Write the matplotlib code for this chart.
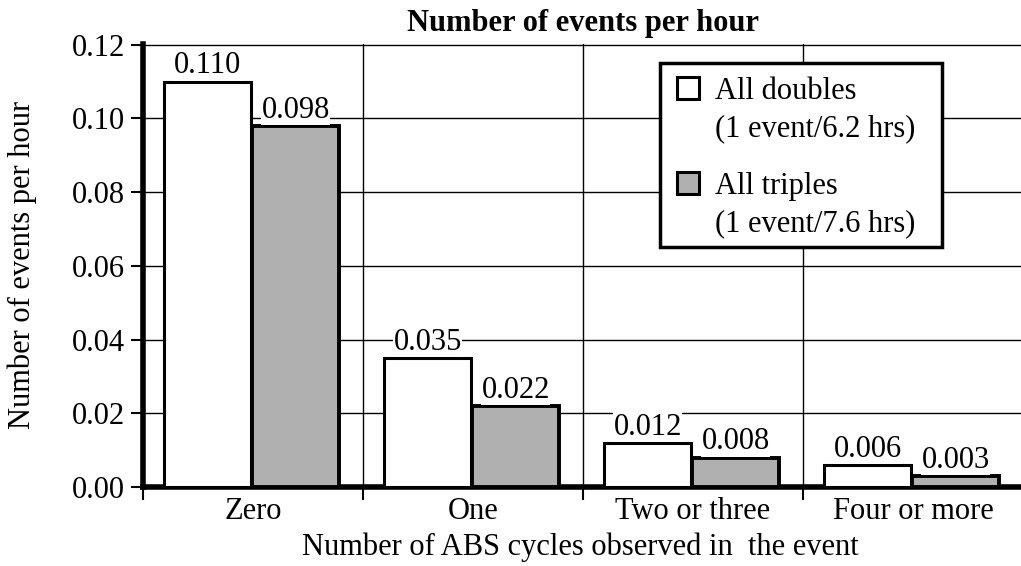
import matplotlib
matplotlib.use("Agg")
import matplotlib.pyplot as plt
from matplotlib.patches import Rectangle
import numpy as np

categories = ["Zero", "One", "Two or three", "Four or more"]
doubles = [0.110, 0.035, 0.012, 0.006]
triples = [0.098, 0.022, 0.008, 0.003]
doubles_labels = ["0.110", "0.035", "0.012", "0.006"]
triples_labels = ["0.098", "0.022", "0.008", "0.003"]
yticks = [0.00, 0.02, 0.04, 0.06, 0.08, 0.10, 0.12]
ytick_labels = ["0.00", "0.02", "0.04", "0.06", "0.08", "0.10", "0.12"]
legend_names = ["All doubles", "All triples"]
legend_notes = ["(1 event/6.2 hrs)", "(1 event/7.6 hrs)"]

plt.rcParams['font.family'] = ['Liberation Serif', 'DejaVu Serif']

W, H = 1021, 566
fig = plt.figure(figsize=(W / 100, H / 100), dpi=100)
ax = fig.add_axes([143 / W, 1 - 487 / H, 880 / W, (487 - 44) / H])


def fx(px):
    return px / W


def fy(py):
    return 1 - py / H


x = np.arange(len(categories))
w = 0.395
gray = '#b0b0b0'
ax.bar(x - 0.205, doubles, w, color='white', edgecolor='black', linewidth=2.2, zorder=3)
ax.bar(x + 0.195, triples, w, color=gray, edgecolor='black', linewidth=2.8, zorder=3)

fs = 22
for xi, v, t in zip(x, doubles, doubles_labels):
    ax.text(xi - 0.205, v + 0.0022, t, ha='center', va='baseline', fontsize=fs, zorder=4,
            bbox=dict(facecolor='white', edgecolor='none', pad=0.3))
for xi, v, t in zip(x, triples, triples_labels):
    ax.text(xi + 0.195, v + 0.0022, t, ha='center', va='baseline', fontsize=fs, zorder=4,
            bbox=dict(facecolor='white', edgecolor='none', pad=0.3))

ax.set_xlim(-0.5, 3.5)
ax.set_ylim(0, 0.1202)
ax.set_yticks(yticks)
ax.set_yticklabels(ytick_labels, fontsize=fs)

ax.set_xticks([-0.5, 0.5, 1.5, 2.5])
ax.set_xticklabels([])
ax.set_xticks(x, minor=True)
ax.set_xticklabels(categories, minor=True, fontsize=fs)
ax.tick_params(axis='x', which='major', length=9, width=1.5, direction='out')
ax.tick_params(axis='x', which='minor', length=0, pad=7)
ax.tick_params(axis='y', length=9, width=1.5, direction='out', pad=4)

ax.grid(True, which='major', color='black', linewidth=1.0, zorder=0)
ax.set_axisbelow(True)

for s in ['top', 'right']:
    ax.spines[s].set_visible(False)
ax.spines['left'].set_linewidth(4)
ax.spines['bottom'].set_linewidth(4)

fig.text(fx(580), fy(555), "Number of ABS cycles observed in  the event", ha='center',
         va='baseline', fontsize=fs)
fig.text(fx(22), fy(265), "Number of events per hour", ha='center', va='center',
         rotation=90, fontsize=fs)
fig.text(fx(583), fy(31), "Number of events per hour", ha='center', va='baseline',
         fontsize=fs, fontweight='bold')

# legend (manual, to match original layout)
fig.add_artist(Rectangle((fx(660), fy(247)), fx(942) - fx(660), fy(63) - fy(247),
                         transform=fig.transFigure, facecolor='white', edgecolor='black',
                         linewidth=2.5, zorder=5))
patch_tops = [77, 172]
text_base = [99, 194]
for i, (name, note) in enumerate(zip(legend_names, legend_notes)):
    fc = 'white' if i == 0 else gray
    fig.add_artist(Rectangle((fx(677), fy(patch_tops[i] + 22)), fx(22), 22 / H,
                             transform=fig.transFigure, facecolor=fc, edgecolor='black',
                             linewidth=2.2, zorder=6))
    fig.text(fx(715), fy(text_base[i]), name, ha='left', va='baseline', fontsize=fs, zorder=6)
    fig.text(fx(715), fy(text_base[i] + 37), note, ha='left', va='baseline', fontsize=fs, zorder=6)

fig.savefig("out.png", dpi=100)
